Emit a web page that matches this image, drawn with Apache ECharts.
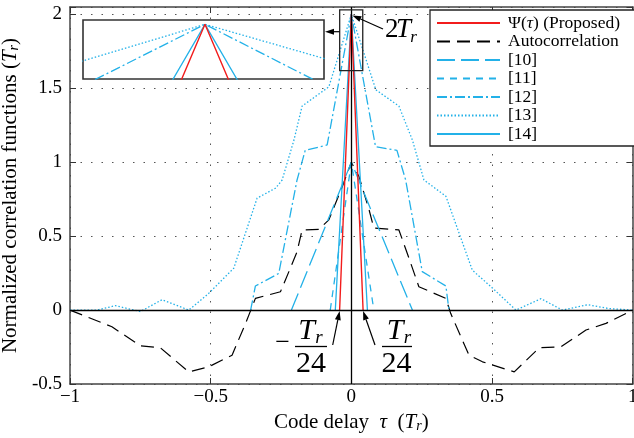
<!DOCTYPE html>
<html>
<head>
<meta charset="utf-8">
<script src="https://cdn.jsdelivr.net/npm/echarts@6/dist/echarts.min.js"></script>
<style>
  html, body { margin: 0; padding: 0; background: #fff; }
  #chart { width: 634px; height: 438px; }
</style>
</head>
<body>
<div id="chart"></div>
<script>
const SERIF = "'Liberation Serif', 'DejaVu Serif', serif";
const BLUE = "#23b1e8";
const RED = "#f21c1c";

// tick values
const xTicks = [-1, -0.5, 0, 0.5, 1];
const yTicks = [-0.5, 0, 0.5, 1, 1.5, 2];

// Psi(tau) proposed
const tauProposed = [-1 / 24, 0, 1 / 24];
const psiProposed = [0, 2, 0];

// autocorrelation
const tauAuto = [-1, -0.851, -0.75, -0.679, -0.578, -0.507, -0.424, -0.376, -0.341, -0.252, -0.222, -0.193, -0.175, -0.115, -0.08, -0.032, 0,
  0.027, 0.063, 0.08, 0.169, 0.205, 0.24, 0.336, 0.353, 0.418, 0.466, 0.579, 0.668, 0.745, 0.834, 0.905, 1];
const rAuto = [0, -0.113, -0.242, -0.255, -0.418, -0.384, -0.305, -0.09, 0.079, 0.124, 0.26, 0.395, 0.542, 0.546, 0.61, 0.836, 1,
  0.904, 0.678, 0.555, 0.542, 0.35, 0.158, 0.079, -0.022, -0.305, -0.35, -0.418, -0.255, -0.248, -0.135, -0.09, 0];

// [10]
const tau10 = [-0.213, 0, 0.217];
const r10 = [0, 1, 0];
// [11]
const tau11 = [-0.075, 0, 0.08];
const r11 = [0, 1, 0];
// [12]
const tau12 = [-0.358, -0.341, -0.258, -0.193, -0.164, -0.086, 0, 0.086, 0.162, 0.193, 0.252, 0.336, 0.347];
const r12 = [0, 0.163, 0.248, 0.88, 1.08, 1.117, 2, 1.105, 1.08, 0.88, 0.26, 0.163, 0];
// [13]
const tau13 = [-1, -0.904, -0.839, -0.75, -0.673, -0.578, -0.507, -0.418, -0.335, -0.269, -0.246, -0.204, -0.175, -0.08, 0,
  0.087, 0.169, 0.217, 0.258, 0.336, 0.43, 0.501, 0.585, 0.674, 0.75, 0.84, 0.917, 1];
const r13 = [0, 0, 0.03, -0.01, 0.07, 0, 0.113, 0.283, 0.757, 0.825, 0.88, 1.15, 1.38, 1.51, 2,
  1.49, 1.38, 1.15, 0.88, 0.77, 0.27, 0.15, 0, 0.077, 0, 0.036, 0.01, 0];
// [14]
const tau14 = [-0.057, 0, 0.057];
const r14 = [0, 2, 0];

// zoomed window shown in the inset
const zoomX = [-0.0415, 0.0405];
const zoomY = [1.62, 2.03];

const pair = (xs, ys) => xs.map((x, i) => [x, ys[i]]);
const onTick = (v, list) => list.some(t => Math.abs(t - v) < 1e-9);

const NAMES = ["Ψ(τ) (Proposed)", "Autocorrelation", "[10]", "[11]", "[12]", "[13]", "[14]"];

const styles = {
  "Ψ(τ) (Proposed)": { color: RED, type: "solid", width: 1.4 },
  "Autocorrelation": { color: "#000", type: [13, 7], width: 1.2 },
  "[10]": { color: BLUE, type: [18, 6], width: 1.3 },
  "[11]": { color: BLUE, type: [7, 6], width: 1.3 },
  "[12]": { color: BLUE, type: [10, 3, 2, 3], width: 1.3 },
  "[13]": { color: BLUE, type: [1.5, 2], width: 1.3 },
  "[14]": { color: BLUE, type: "solid", width: 1.3 },
};

const mkLine = (name, xs, ys, grid, z) => ({
  name, type: "line", xAxisIndex: grid === 0 ? 0 : 2, yAxisIndex: grid === 0 ? 0 : 2,
  data: pair(xs, ys), symbol: "none", silent: true, z,
  itemStyle: { color: styles[name].color },
  lineStyle: { ...styles[name] },
});

const tickStyle = { show: true, inside: true, length: 6, lineStyle: { color: "#333", width: 1 } };
const frameLine = { show: true, onZero: false, lineStyle: { color: "#444", width: 1.5 } };
const gridDots = { show: true, lineStyle: { color: "#555", type: [1.5, 9], width: 1 } };

const option = {
  animation: false,
  backgroundColor: "#fff",
  grid: [
    { left: 70, top: 7, width: 562.7, height: 377, show: false, outerBoundsMode: "none", containLabel: false },
    { left: 83, top: 20, width: 241, height: 59, show: true, z: 3, backgroundColor: "#fff", borderColor: "#333", borderWidth: 1.6,
      outerBoundsMode: "none", containLabel: false },
  ],
  legend: {
    left: 430, top: 10, orient: "vertical",
    data: NAMES,
    backgroundColor: "#fff", borderColor: "#222", borderWidth: 1.3,
    padding: [4, 15, 3, 6],
    itemWidth: 63, itemHeight: 10, itemGap: 0.5,
    itemStyle: { opacity: 0, borderWidth: 0 },
    textStyle: { fontFamily: SERIF, fontSize: 17.5, lineHeight: 17, color: "#000", padding: [0, 0, 0, 3],
      rich: { i: { fontFamily: SERIF, fontSize: 17.5, lineHeight: 17, fontStyle: "italic", color: "#000" } } },
    formatter: n => n === NAMES[0] ? "Ψ({i|τ}) (Proposed)" : n,
  },
  xAxis: [
    {
      type: "value", gridIndex: 0, position: "bottom", min: -1, max: 1, interval: 0.5,
      axisLine: frameLine, axisTick: tickStyle, splitLine: gridDots,
      axisLabel: { fontFamily: SERIF, fontSize: 19, color: "#000", margin: 4,
        formatter: v => onTick(v, xTicks) ? (v < 0 ? "−" + Math.abs(v) : String(v)) : "" },
      name: "Code delay  {i|τ}  ({i|T}{s|r})", nameLocation: "middle", nameGap: 25,
      nameTextStyle: { fontFamily: SERIF, fontSize: 21, color: "#000",
        rich: { i: { fontFamily: SERIF, fontSize: 21, fontStyle: "italic", color: "#000" },
                s: { fontFamily: SERIF, fontSize: 14, fontStyle: "italic", color: "#000", padding: [8, 0, 0, 0] } } },
    },
    {
      type: "value", gridIndex: 0, position: "top", min: -1, max: 1, interval: 0.5,
      axisLine: frameLine, axisTick: tickStyle, axisLabel: { show: false }, splitLine: { show: false },
    },
    { type: "value", gridIndex: 1, min: zoomX[0], max: zoomX[1], show: false, splitLine: { show: false } },
  ],
  yAxis: [
    {
      type: "value", gridIndex: 0, position: "left", min: -0.5, max: 2.05, interval: 0.5,
      axisLine: frameLine, axisTick: tickStyle, splitLine: gridDots,
      axisLabel: { fontFamily: SERIF, fontSize: 19, color: "#000", margin: 8,
        formatter: v => onTick(v, yTicks) ? String(v) : "" },
      name: "Normalized correlation functions ({i|T}{s|r})", nameLocation: "middle", nameGap: 29,
      nameTextStyle: { fontFamily: SERIF, fontSize: 21, color: "#000",
        rich: { i: { fontFamily: SERIF, fontSize: 21, fontStyle: "italic", color: "#000" },
                s: { fontFamily: SERIF, fontSize: 14, fontStyle: "italic", color: "#000", padding: [8, 0, 0, 0] } } },
    },
    {
      type: "value", gridIndex: 0, position: "right", min: -0.5, max: 2.05, interval: 0.5,
      axisLine: frameLine, axisTick: tickStyle, axisLabel: { show: false }, splitLine: { show: false },
    },
    { type: "value", gridIndex: 1, min: zoomY[0], max: zoomY[1], show: false, splitLine: { show: false } },
  ],
  series: [
    {
      ...mkLine("Autocorrelation", tauAuto, rAuto, 0, 2),
      markLine: {
        silent: true, symbol: "none", label: { show: false }, animation: false,
        lineStyle: { color: "#000", type: "solid", width: 1.3 },
        data: [{ yAxis: 0 }, { xAxis: 0 }],
      },
    },
    mkLine("[10]", tau10, r10, 0, 2),
    mkLine("[11]", tau11, r11, 0, 2),
    mkLine("[12]", tau12, r12, 0, 2),
    mkLine("[13]", tau13, r13, 0, 2),
    mkLine("[14]", tau14, r14, 0, 2),
    mkLine("Ψ(τ) (Proposed)", tauProposed, psiProposed, 0, 3),
    // inset copies
    mkLine("[12]", tau12, r12, 1, 4),
    mkLine("[13]", tau13, r13, 1, 4),
    mkLine("[14]", tau14, r14, 1, 4),
    mkLine("Ψ(τ) (Proposed)", tauProposed, psiProposed, 1, 5),
  ],
};

const chart = echarts.init(document.getElementById("chart"), null, { renderer: "canvas" });
chart.setOption(option);

// annotations
const px = (x, y) => chart.convertToPixel({ xAxisIndex: 0, yAxisIndex: 0 }, [x, y]);

function arrow(x1, y1, x2, y2, head) {
  const dx = x2 - x1, dy = y2 - y1, len = Math.hypot(dx, dy);
  const ux = dx / len, uy = dy / len;
  const bx = x2 - ux * head, by = y2 - uy * head;
  const w = head * 0.33;
  return [
    { type: "line", z: 10, silent: true, shape: { x1, y1, x2: bx, y2: by }, style: { stroke: "#000", lineWidth: 1.2 } },
    { type: "polygon", z: 10, silent: true, shape: { points: [[x2, y2], [bx - uy * w, by + ux * w], [bx + uy * w, by - ux * w]] }, style: { fill: "#000" } },
  ];
}
const txt = (text, x, y, size, italic) => ({
  type: "text", z: 10, silent: true,
  style: { text, x, y, fill: "#000", font: (italic ? "italic " : "") + size + "px " + SERIF, textAlign: "center", textVerticalAlign: "middle" },
});
const bar = (x1, x2, y) => ({ type: "line", z: 10, silent: true, shape: { x1, y1: y, x2, y2: y }, style: { stroke: "#000", lineWidth: 1.3 } });

const tl = px(zoomX[0], zoomY[1]);
const br = px(zoomX[1], zoomY[0]);
const peak = px(0, 2);
const footL = px(-1 / 24, 0);
const footR = px(1 / 24, 0);

const graphic = [
  { type: "rect", z: 10, silent: true, shape: { x: tl[0], y: tl[1], width: br[0] - tl[0], height: br[1] - tl[1] },
    style: { fill: null, stroke: "#222", lineWidth: 1.3 } },
  ...arrow(tl[0], 31.7, 325, 31.7, 9),
  ...arrow(383, 29, peak[0] + 1, peak[1] + 1, 9),
  txt("2", 391.7, 30, 27), txt("T", 403.5, 30, 27, true), txt("r", 413.5, 38, 17, true),
  ...arrow(332.7, 345, footL[0], footL[1] + 1, 9),
  ...arrow(375, 345, footR[0], footR[1] + 1, 9),
  txt("−", 282.5, 343, 26),
  txt("T", 306.7, 331, 30, true), txt("r", 319, 337.5, 19, true),
  bar(295, 327, 346.5), txt("24", 311, 364.5, 30),
  txt("T", 395, 331, 30, true), txt("r", 407.5, 337.5, 19, true),
  bar(382, 412, 346.5), txt("24", 396.5, 364.5, 30),
];
chart.setOption({ graphic });
</script>
</body>
</html>
